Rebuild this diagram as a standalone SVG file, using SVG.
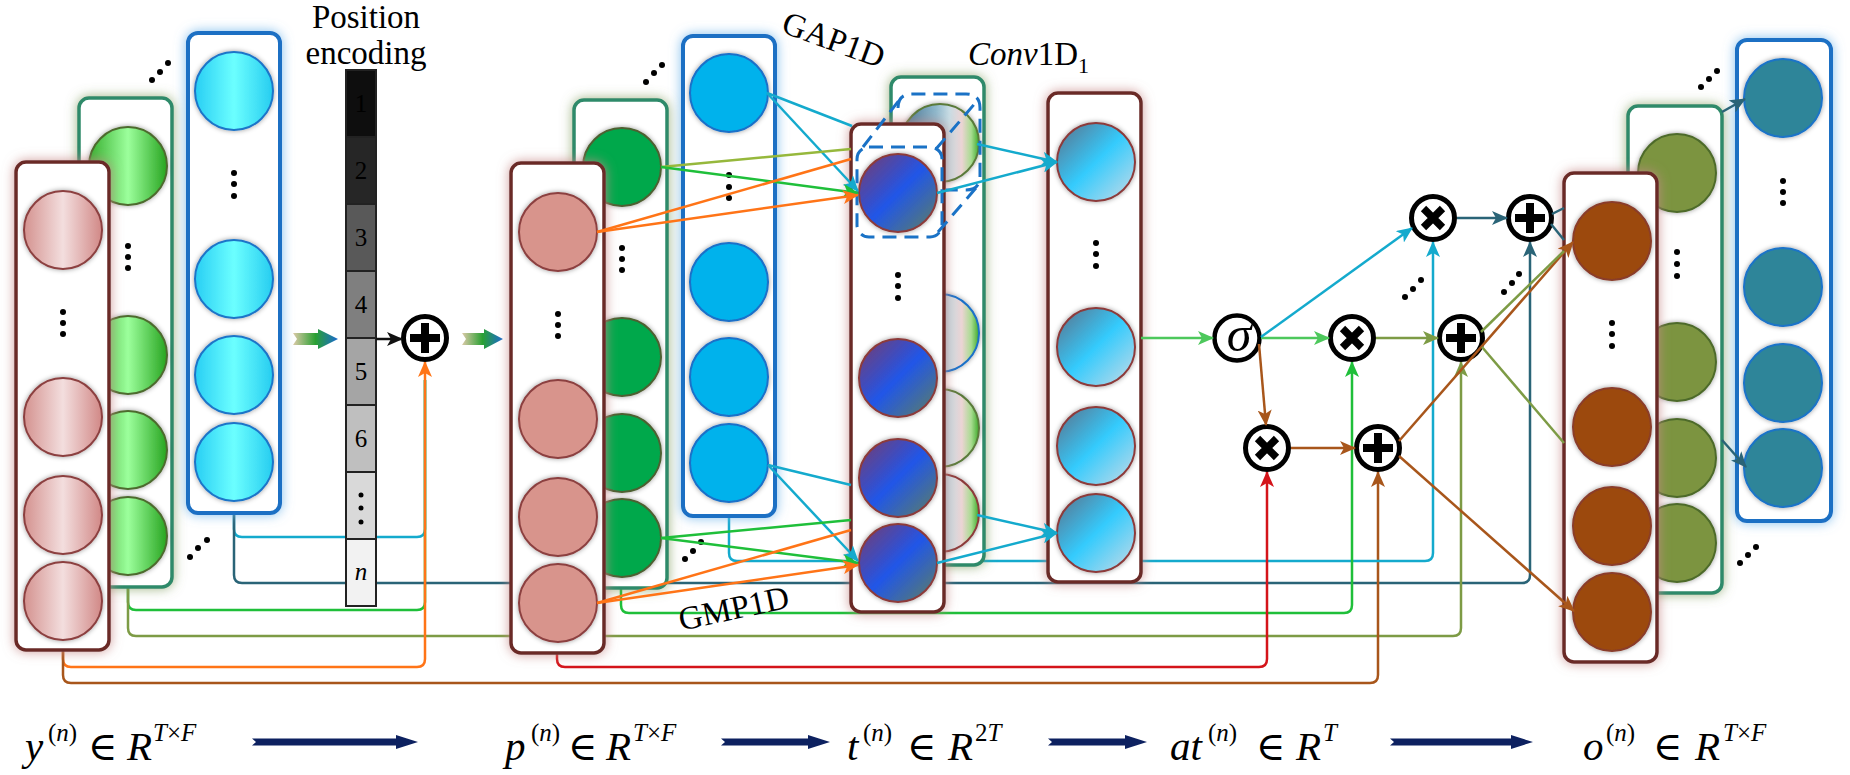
<svg xmlns="http://www.w3.org/2000/svg" width="1850" height="775" viewBox="0 0 1850 775">
<defs>
<style>
text{font-family:"Liberation Serif","Times New Roman","DejaVu Serif",serif;fill:#000}
.i{font-style:italic}
.f{font-size:41px}
.s{font-size:25px}
.el{font-size:40px}
.bx{fill:#fff}
.bR{stroke:#6a2a28;stroke-width:3.5;filter:url(#glowR)}
.bG{stroke:#2f8a6a;stroke-width:3.5;filter:url(#glowG)}
.bB{stroke:#1a6fc4;stroke-width:4;filter:url(#glowB)}
.c{stroke-width:2;filter:url(#sh)}
.c1r{fill:url(#gInR);stroke:#8c4040}
.c1g{fill:url(#gInG);stroke:#4d6b2e}
.c1b{fill:url(#gInB);stroke:#1d74c8}
.c2r{fill:#d8948c;stroke:#8c4040}
.c2g{fill:#00a84c;stroke:#4d6030}
.c2b{fill:#00b2ec;stroke:#1a70c8}
.ct{fill:url(#gT);stroke:#8c3a3a}
.cv{fill:url(#gConv);stroke:#8c3a3a}
.ch{fill:url(#gHid)}
.c3r{fill:#9c4a0c;stroke:#8a3c2a}
.c3g{fill:#7b9440;stroke:#4d6a2a}
.c3b{fill:#2e8599;stroke:#1a73c8}
.dot{fill:#000}
.ln{fill:none;stroke-width:2.5}
.cy{stroke:#14aacd}.gr{stroke:#1fbf3a}.lg{stroke:#4dc85c}.ol{stroke:#7d9b45}.yo{stroke:#96b83c}
.or{stroke:#ff7417}.rd{stroke:#d4141a}.br{stroke:#a8561b}.tl{stroke:#2a6477}.bk{stroke:#111}
.pe{stroke:#222;stroke-width:2}
.pn{font-size:25px;text-anchor:middle}
.lab{font-size:33px}
</style>
<filter id="glowR" x="-0.3" y="-0.08" width="1.6" height="1.16">
<feGaussianBlur in="SourceAlpha" stdDeviation="6" result="b"/>
<feFlood flood-color="#c68a88" flood-opacity="0.85"/>
<feComposite in2="b" operator="in" result="g"/>
<feMerge><feMergeNode in="g"/><feMergeNode in="SourceGraphic"/></feMerge>
</filter>
<filter id="glowG" x="-0.3" y="-0.08" width="1.6" height="1.16">
<feGaussianBlur in="SourceAlpha" stdDeviation="6" result="b"/>
<feFlood flood-color="#7e9a5a" flood-opacity="0.75"/>
<feComposite in2="b" operator="in" result="g"/>
<feMerge><feMergeNode in="g"/><feMergeNode in="SourceGraphic"/></feMerge>
</filter>
<filter id="glowB" x="-0.3" y="-0.08" width="1.6" height="1.16">
<feGaussianBlur in="SourceAlpha" stdDeviation="6" result="b"/>
<feFlood flood-color="#6fb4ea" flood-opacity="0.85"/>
<feComposite in2="b" operator="in" result="g"/>
<feMerge><feMergeNode in="g"/><feMergeNode in="SourceGraphic"/></feMerge>
</filter>
<filter id="sh" x="-0.2" y="-0.2" width="1.4" height="1.4">
<feGaussianBlur in="SourceAlpha" stdDeviation="2.5" result="b"/>
<feFlood flood-color="#000" flood-opacity="0.4"/>
<feComposite in2="b" operator="in" result="g"/>
<feMerge><feMergeNode in="g"/><feMergeNode in="SourceGraphic"/></feMerge>
</filter>
<linearGradient id="gInR"><stop offset="0" stop-color="#d4928f"/><stop offset="0.5" stop-color="#f3dede"/><stop offset="1" stop-color="#d18886"/></linearGradient>
<linearGradient id="gInG"><stop offset="0" stop-color="#36ae2e"/><stop offset="0.5" stop-color="#9cff9c"/><stop offset="1" stop-color="#28a420"/></linearGradient>
<linearGradient id="gInB"><stop offset="0" stop-color="#28cef4"/><stop offset="0.5" stop-color="#6cffff"/><stop offset="1" stop-color="#26ccf0"/></linearGradient>
<linearGradient id="gT" x1="0" y1="0" x2="1" y2="1"><stop offset="0" stop-color="#7a3a6a"/><stop offset="0.5" stop-color="#2156e8"/><stop offset="1" stop-color="#5e8060"/></linearGradient>
<linearGradient id="gConv" x1="0" y1="0" x2="1" y2="1"><stop offset="0" stop-color="#5c6f88"/><stop offset="0.5" stop-color="#34cbfd"/><stop offset="1" stop-color="#cadbe6"/></linearGradient>
<linearGradient id="gHid"><stop offset="0" stop-color="#3d6e8e"/><stop offset="0.45" stop-color="#8fb8cc"/><stop offset="0.62" stop-color="#c8dce4"/><stop offset="0.78" stop-color="#ecd4d4"/><stop offset="0.9" stop-color="#a8dc90"/><stop offset="1" stop-color="#3caa2a"/></linearGradient>
<linearGradient id="gFat"><stop offset="0" stop-color="#dccaa8"/><stop offset="0.5" stop-color="#2aa032"/><stop offset="1" stop-color="#1a6ad0"/></linearGradient>
<marker id="m-cy" markerUnits="userSpaceOnUse" markerWidth="16" markerHeight="14" viewBox="0 0 16 14" refX="15" refY="7" orient="auto"><path d="M0,0L16,7L0,14L4,7z" fill="#14aacd"/></marker>
<marker id="m-gr" markerUnits="userSpaceOnUse" markerWidth="16" markerHeight="14" viewBox="0 0 16 14" refX="15" refY="7" orient="auto"><path d="M0,0L16,7L0,14L4,7z" fill="#1fbf3a"/></marker>
<marker id="m-lg" markerUnits="userSpaceOnUse" markerWidth="16" markerHeight="14" viewBox="0 0 16 14" refX="15" refY="7" orient="auto"><path d="M0,0L16,7L0,14L4,7z" fill="#4dc85c"/></marker>
<marker id="m-ol" markerUnits="userSpaceOnUse" markerWidth="16" markerHeight="14" viewBox="0 0 16 14" refX="15" refY="7" orient="auto"><path d="M0,0L16,7L0,14L4,7z" fill="#7d9b45"/></marker>
<marker id="m-or" markerUnits="userSpaceOnUse" markerWidth="16" markerHeight="14" viewBox="0 0 16 14" refX="15" refY="7" orient="auto"><path d="M0,0L16,7L0,14L4,7z" fill="#ff7417"/></marker>
<marker id="m-rd" markerUnits="userSpaceOnUse" markerWidth="16" markerHeight="14" viewBox="0 0 16 14" refX="15" refY="7" orient="auto"><path d="M0,0L16,7L0,14L4,7z" fill="#d4141a"/></marker>
<marker id="m-br" markerUnits="userSpaceOnUse" markerWidth="16" markerHeight="14" viewBox="0 0 16 14" refX="15" refY="7" orient="auto"><path d="M0,0L16,7L0,14L4,7z" fill="#a8561b"/></marker>
<marker id="m-tl" markerUnits="userSpaceOnUse" markerWidth="16" markerHeight="14" viewBox="0 0 16 14" refX="15" refY="7" orient="auto"><path d="M0,0L16,7L0,14L4,7z" fill="#2a6477"/></marker>
<marker id="m-bk" markerUnits="userSpaceOnUse" markerWidth="16" markerHeight="14" viewBox="0 0 16 14" refX="15" refY="7" orient="auto"><path d="M0,0L16,7L0,14L4,7z" fill="#111"/></marker>
<g id="plusSym"><circle r="21.5" fill="#fff" stroke="#000" stroke-width="5"/><path d="M-15,-4H15V4H-15zM-4,-15H4V15H-4z" fill="#000"/></g>
<g id="timesSym"><circle r="21.5" fill="#fff" stroke="#000" stroke-width="5"/><path d="M-9.5,-9.5L9.5,9.5M9.5,-9.5L-9.5,9.5" stroke="#000" stroke-width="7.5"/></g>
<path id="navy" d="M0,-3.5H144V-7L166,0L144,7V3.5H0L4,0z" fill="#0d2160"/>
</defs>
<rect width="1850" height="775" fill="#fff"/>

<g id="connectors-back" class="ln">
<path class="cy" d="M234,513V529Q234,537 242,537H417Q425,537 425,529V380"/>
<path class="gr" d="M128,587V602Q128,610 136,610H417Q425,610 425,602V380"/>
<path class="tl" marker-end="url(#m-tl)" d="M234,513V575Q234,583 242,583H1522Q1530,583 1530,575V242"/>
<path class="ol" marker-end="url(#m-ol)" d="M128,587V628Q128,636 136,636H1453Q1461,636 1461,628V362"/>
<path class="or" marker-end="url(#m-or)" d="M63,650V659Q63,667 71,667H417Q425,667 425,659V362"/>
<path class="br" marker-end="url(#m-br)" d="M63,650V675Q63,683 71,683H1370Q1378,683 1378,675V472"/>
<path class="cy" marker-end="url(#m-cy)" d="M729,516V553Q729,561 737,561H1425Q1433,561 1433,553V242"/>
<path class="gr" marker-end="url(#m-gr)" d="M621,588V605Q621,613 629,613H1344Q1352,613 1352,605V362"/>
<path class="rd" marker-end="url(#m-rd)" d="M557,653V659Q557,667 565,667H1259Q1267,667 1267,659V472"/>
</g>

<g id="input-y">
<rect class="bx bB" x="188" y="33" width="92" height="480" rx="10"/>
<circle class="c c1b" cx="234" cy="91" r="39"/>
<circle class="c c1b" cx="234" cy="279" r="39"/>
<circle class="c c1b" cx="234" cy="375" r="39"/>
<circle class="c c1b" cx="234" cy="462" r="39"/>
<circle class="dot" cx="234" cy="173" r="3"/><circle class="dot" cx="234" cy="184" r="3"/><circle class="dot" cx="234" cy="196" r="3"/>
<rect class="bx bG" x="79" y="98" width="93" height="489" rx="10"/>
<circle class="c c1g" cx="128" cy="166" r="39"/>
<circle class="c c1g" cx="128" cy="355" r="39"/>
<circle class="c c1g" cx="128" cy="450" r="39"/>
<circle class="c c1g" cx="128" cy="536" r="39"/>
<circle class="dot" cx="128" cy="246" r="3"/><circle class="dot" cx="128" cy="257" r="3"/><circle class="dot" cx="128" cy="268" r="3"/>
<rect class="bx bR" x="16" y="162" width="93" height="488" rx="10"/>
<circle class="c c1r" cx="63" cy="230" r="39"/>
<circle class="c c1r" cx="63" cy="417" r="39"/>
<circle class="c c1r" cx="63" cy="515" r="39"/>
<circle class="c c1r" cx="63" cy="601" r="39"/>
<circle class="dot" cx="63" cy="312" r="3"/><circle class="dot" cx="63" cy="323" r="3"/><circle class="dot" cx="63" cy="334" r="3"/>
<circle class="dot" cx="152" cy="80" r="3"/><circle class="dot" cx="160" cy="72" r="3"/><circle class="dot" cx="168" cy="63" r="3"/>
<circle class="dot" cx="190" cy="557" r="3"/><circle class="dot" cx="198" cy="548" r="3"/><circle class="dot" cx="207" cy="540" r="3"/>
</g>

<g id="position-encoding">
<text x="366" y="28" font-size="33" text-anchor="middle">Position</text>
<text x="366" y="64" font-size="33" text-anchor="middle">encoding</text>
<rect class="pe" x="346" y="70" width="30" height="67" fill="#0e0e0e"/>
<rect class="pe" x="346" y="137" width="30" height="67" fill="#262626"/>
<rect class="pe" x="346" y="204" width="30" height="67" fill="#595959"/>
<rect class="pe" x="346" y="271" width="30" height="67" fill="#7f7f7f"/>
<rect class="pe" x="346" y="338" width="30" height="67" fill="#a5a5a5"/>
<rect class="pe" x="346" y="405" width="30" height="67" fill="#bfbfbf"/>
<rect class="pe" x="346" y="472" width="30" height="67" fill="#d9d9d9"/>
<rect class="pe" x="346" y="539" width="30" height="67" fill="#f2f2f2"/>
<text class="pn" x="361" y="112" fill="#262626">1</text>
<text class="pn" x="361" y="179">2</text>
<text class="pn" x="361" y="246">3</text>
<text class="pn" x="361" y="313">4</text>
<text class="pn" x="361" y="380">5</text>
<text class="pn" x="361" y="447">6</text>
<circle class="dot" cx="361" cy="495" r="2.5"/><circle class="dot" cx="361" cy="508" r="2.5"/><circle class="dot" cx="361" cy="522" r="2.5"/>
<text class="pn i" x="361" y="580">n</text>
</g>

<g id="fat-arrow-1"><path d="M293,333H318V329L338,339L318,349V345H293L297,339z" fill="url(#gFat)"/></g>
<g id="add-pe"><use href="#plusSym" x="425" y="338"/></g>
<g id="fat-arrow-2"><path d="M462,333H484V329L503,339L484,349V345H462L466,339z" fill="url(#gFat)"/></g>

<g id="p-group">
<rect class="bx bB" x="683" y="36" width="92" height="480" rx="10"/>
<circle class="c c2b" cx="729" cy="93" r="39"/>
<circle class="c c2b" cx="729" cy="282" r="39"/>
<circle class="c c2b" cx="729" cy="377" r="39"/>
<circle class="c c2b" cx="729" cy="463" r="39"/>
<circle class="dot" cx="729" cy="175" r="3"/><circle class="dot" cx="729" cy="187" r="3"/><circle class="dot" cx="729" cy="198" r="3"/>
<rect class="bx bG" x="574" y="100" width="93" height="488" rx="10"/>
<circle class="c c2g" cx="622" cy="167" r="39"/>
<circle class="c c2g" cx="622" cy="357" r="39"/>
<circle class="c c2g" cx="622" cy="453" r="39"/>
<circle class="c c2g" cx="622" cy="538" r="39"/>
<circle class="dot" cx="622" cy="248" r="3"/><circle class="dot" cx="622" cy="259" r="3"/><circle class="dot" cx="622" cy="270" r="3"/>
<rect class="bx bR" x="511" y="163" width="93" height="490" rx="10"/>
<circle class="c c2r" cx="558" cy="232" r="39"/>
<circle class="c c2r" cx="558" cy="419" r="39"/>
<circle class="c c2r" cx="558" cy="517" r="39"/>
<circle class="c c2r" cx="558" cy="603" r="39"/>
<circle class="dot" cx="558" cy="314" r="3"/><circle class="dot" cx="558" cy="325" r="3"/><circle class="dot" cx="558" cy="336" r="3"/>
<circle class="dot" cx="646" cy="82" r="3"/><circle class="dot" cx="654" cy="73" r="3"/><circle class="dot" cx="662" cy="65" r="3"/>
<circle class="dot" cx="685" cy="559" r="3"/><circle class="dot" cx="693" cy="551" r="3"/><circle class="dot" cx="701" cy="542" r="3"/>
</g>

<g id="conv-input">
<rect class="bx bG" x="891" y="77" width="93" height="488" rx="10"/>
<circle class="c ch" stroke="#5a7a3a" cx="940" cy="143" r="39"/>
<circle class="c ch" stroke="#1a70c8" cx="940" cy="333" r="39"/>
<circle class="c ch" stroke="#5a7a3a" cx="940" cy="428" r="39"/>
<circle class="c ch" stroke="#8c3a3a" cx="940" cy="513" r="39"/>
</g>

<g id="t-group">
<rect class="bx bR" x="851" y="124" width="93" height="488" rx="10"/>
<circle class="c ct" cx="898" cy="193" r="39"/>
<circle class="c ct" cx="898" cy="378" r="39"/>
<circle class="c ct" cx="898" cy="478" r="39"/>
<circle class="c ct" cx="898" cy="563" r="39"/>
<circle class="dot" cx="898" cy="275" r="3"/><circle class="dot" cx="898" cy="286" r="3"/><circle class="dot" cx="898" cy="298" r="3"/>
</g>

<g id="conv-kernel" fill="none" stroke="#1a72c6" stroke-width="3" stroke-dasharray="14 8">
<path d="M898,108Q898,94 912,94H966Q980,94 980,108V176Q980,190 966,190H946"/>
<rect x="857" y="147" width="85" height="90" rx="12"/>
<path d="M863,147L900,99M936,149L977,101M938,232L976,188"/>
</g>

<g id="conv-output">
<rect class="bx bR" x="1048" y="93" width="93" height="489" rx="10"/>
<circle class="c cv" cx="1096" cy="162" r="39"/>
<circle class="c cv" cx="1096" cy="347" r="39"/>
<circle class="c cv" cx="1096" cy="446" r="39"/>
<circle class="c cv" cx="1096" cy="533" r="39"/>
<circle class="dot" cx="1096" cy="243" r="3"/><circle class="dot" cx="1096" cy="254" r="3"/><circle class="dot" cx="1096" cy="266" r="3"/>
</g>

<g id="label-gap1d"><text class="lab" transform="translate(830,50) rotate(20)" text-anchor="middle">GAP1D</text></g>
<g id="label-gmp1d"><text class="lab" transform="translate(736,619) rotate(-12)" text-anchor="middle">GMP1D</text></g>
<g id="label-conv1d"><text x="968" y="65" font-size="33"><tspan class="i">Conv</tspan>1D<tspan font-size="22" dy="8">1</tspan></text></g>

<g id="sigma"><circle cx="1237" cy="338" r="22.5" fill="#fff" stroke="#000" stroke-width="4.5"/><text x="1239" y="351" font-size="50" class="i" text-anchor="middle">σ</text></g>
<g id="mul-1"><use href="#timesSym" x="1352" y="338"/></g>
<g id="add-1"><use href="#plusSym" x="1461" y="338"/></g>
<g id="mul-2"><use href="#timesSym" x="1267" y="448"/></g>
<g id="add-2"><use href="#plusSym" x="1378" y="448"/></g>
<g id="mul-top"><use href="#timesSym" x="1433" y="218"/></g>
<g id="add-top"><use href="#plusSym" x="1530" y="218"/></g>
<g id="ops-dots">
<circle class="dot" cx="1405" cy="297" r="3"/><circle class="dot" cx="1413" cy="289" r="3"/><circle class="dot" cx="1421" cy="280" r="3"/>
<circle class="dot" cx="1504" cy="292" r="3"/><circle class="dot" cx="1512" cy="283" r="3"/><circle class="dot" cx="1519" cy="274" r="3"/>
</g>

<g id="output-o">
<rect class="bx bB" x="1737" y="40" width="94" height="481" rx="10"/>
<circle class="c c3b" cx="1783" cy="98" r="39"/>
<circle class="c c3b" cx="1783" cy="287" r="39"/>
<circle class="c c3b" cx="1783" cy="383" r="39"/>
<circle class="c c3b" cx="1783" cy="468" r="39"/>
<circle class="dot" cx="1783" cy="181" r="3"/><circle class="dot" cx="1783" cy="192" r="3"/><circle class="dot" cx="1783" cy="203" r="3"/>
<rect class="bx bG" x="1628" y="106" width="94" height="487" rx="10"/>
<circle class="c c3g" cx="1677" cy="173" r="39"/>
<circle class="c c3g" cx="1677" cy="362" r="39"/>
<circle class="c c3g" cx="1677" cy="458" r="39"/>
<circle class="c c3g" cx="1677" cy="543" r="39"/>
<circle class="dot" cx="1677" cy="252" r="3"/><circle class="dot" cx="1677" cy="264" r="3"/><circle class="dot" cx="1677" cy="276" r="3"/>
<rect class="bx bR" x="1564" y="173" width="93" height="489" rx="10"/>
<circle class="c c3r" cx="1612" cy="241" r="39"/>
<circle class="c c3r" cx="1612" cy="427" r="39"/>
<circle class="c c3r" cx="1612" cy="526" r="39"/>
<circle class="c c3r" cx="1612" cy="612" r="39"/>
<circle class="dot" cx="1612" cy="323" r="3"/><circle class="dot" cx="1612" cy="334" r="3"/><circle class="dot" cx="1612" cy="346" r="3"/>
<circle class="dot" cx="1701" cy="87" r="3"/><circle class="dot" cx="1709" cy="79" r="3"/><circle class="dot" cx="1717" cy="71" r="3"/>
<circle class="dot" cx="1740" cy="563" r="3"/><circle class="dot" cx="1748" cy="555" r="3"/><circle class="dot" cx="1756" cy="547" r="3"/>
</g>

<g id="connectors" class="ln">
<path class="bk" marker-end="url(#m-bk)" d="M376,339H402"/>
<path class="cy" d="M767,93L852,126"/>
<path class="cy" marker-end="url(#m-cy)" d="M767,93L858,191"/>
<path class="yo" d="M661,167L851,149"/>
<path class="gr" marker-end="url(#m-gr)" d="M661,167L858,193"/>
<path class="or" d="M597,232L851,159"/>
<path class="or" marker-end="url(#m-or)" d="M597,232L858,195"/>
<path class="cy" d="M768,465L851,485"/>
<path class="cy" marker-end="url(#m-cy)" d="M768,465L858,561"/>
<path class="gr" d="M661,538L851,520"/>
<path class="gr" marker-end="url(#m-gr)" d="M661,538L858,563"/>
<path class="or" d="M597,603L851,530"/>
<path class="or" marker-end="url(#m-or)" d="M597,603L858,565"/>
<path class="cy" marker-end="url(#m-cy)" d="M977,144L1057,162"/>
<path class="cy" marker-end="url(#m-cy)" d="M937,193L1057,162"/>
<path class="cy" marker-end="url(#m-cy)" d="M977,515L1057,533"/>
<path class="cy" marker-end="url(#m-cy)" d="M937,563L1057,533"/>
<path class="lg" marker-end="url(#m-lg)" d="M1141,338H1213"/>
<path class="lg" marker-end="url(#m-lg)" d="M1261,338H1329"/>
<path class="cy" marker-end="url(#m-cy)" d="M1261,337L1412,228"/>
<path class="br" marker-end="url(#m-br)" d="M1259,344L1266,425"/>
<path class="ol" marker-end="url(#m-ol)" d="M1376,338H1438"/>
<path class="br" marker-end="url(#m-br)" d="M1291,448H1355"/>
<path class="tl" marker-end="url(#m-tl)" d="M1457,218H1507"/>
<path class="br" marker-end="url(#m-br)" d="M1399,441L1573,242"/>
<path class="br" marker-end="url(#m-br)" d="M1399,456L1574,611"/>
<path class="ol" d="M1481,332L1564,251"/>
<path class="ol" d="M1482,347L1564,443"/>
<path class="tl" d="M1552,214L1564,208"/>
<path class="tl" d="M1551,224L1564,240"/>
<path class="tl" marker-end="url(#m-tl)" d="M1722,112L1745,99"/>
<path class="tl" marker-end="url(#m-tl)" d="M1722,440L1746,467"/>
</g>

<g id="formulas">
<text class="f"><tspan class="i" x="25" y="760">y</tspan><tspan class="s" x="48" y="741">(</tspan><tspan class="s i">n</tspan><tspan class="s">)</tspan><tspan class="el" x="88" y="760">∈</tspan><tspan class="i" x="127">R</tspan><tspan class="s i" x="153" y="741">T</tspan><tspan class="s">×</tspan><tspan class="s i">F</tspan></text>
<use href="#navy" x="252" y="742"/>
<text class="f"><tspan class="i" x="505" y="760">p</tspan><tspan class="s" x="531" y="741">(</tspan><tspan class="s i">n</tspan><tspan class="s">)</tspan><tspan class="el" x="568" y="760">∈</tspan><tspan class="i" x="606">R</tspan><tspan class="s i" x="633" y="741">T</tspan><tspan class="s">×</tspan><tspan class="s i">F</tspan></text>
<path d="M721,738.5H808V735L830,742L808,749V745.5H721L725,742z" fill="#0d2160"/>
<text class="f"><tspan class="i" x="847" y="760">t</tspan><tspan class="s" x="863" y="741">(</tspan><tspan class="s i">n</tspan><tspan class="s">)</tspan><tspan class="el" x="907" y="760">∈</tspan><tspan class="i" x="948">R</tspan><tspan class="s" x="975" y="741">2</tspan><tspan class="s i">T</tspan></text>
<path d="M1048,738.5H1125V735L1147,742L1125,749V745.5H1048L1052,742z" fill="#0d2160"/>
<text class="f"><tspan class="i" x="1170" y="760">at</tspan><tspan class="s" x="1208" y="741">(</tspan><tspan class="s i">n</tspan><tspan class="s">)</tspan><tspan class="el" x="1256" y="760">∈</tspan><tspan class="i" x="1296">R</tspan><tspan class="s i" x="1323" y="741">T</tspan></text>
<path d="M1390,738.5H1511V735L1533,742L1511,749V745.5H1390L1394,742z" fill="#0d2160"/>
<text class="f"><tspan class="i" x="1583" y="760">o</tspan><tspan class="s" x="1606" y="741">(</tspan><tspan class="s i">n</tspan><tspan class="s">)</tspan><tspan class="el" x="1653" y="760">∈</tspan><tspan class="i" x="1695">R</tspan><tspan class="s i" x="1723" y="741">T</tspan><tspan class="s">×</tspan><tspan class="s i">F</tspan></text>
</g>
</svg>
